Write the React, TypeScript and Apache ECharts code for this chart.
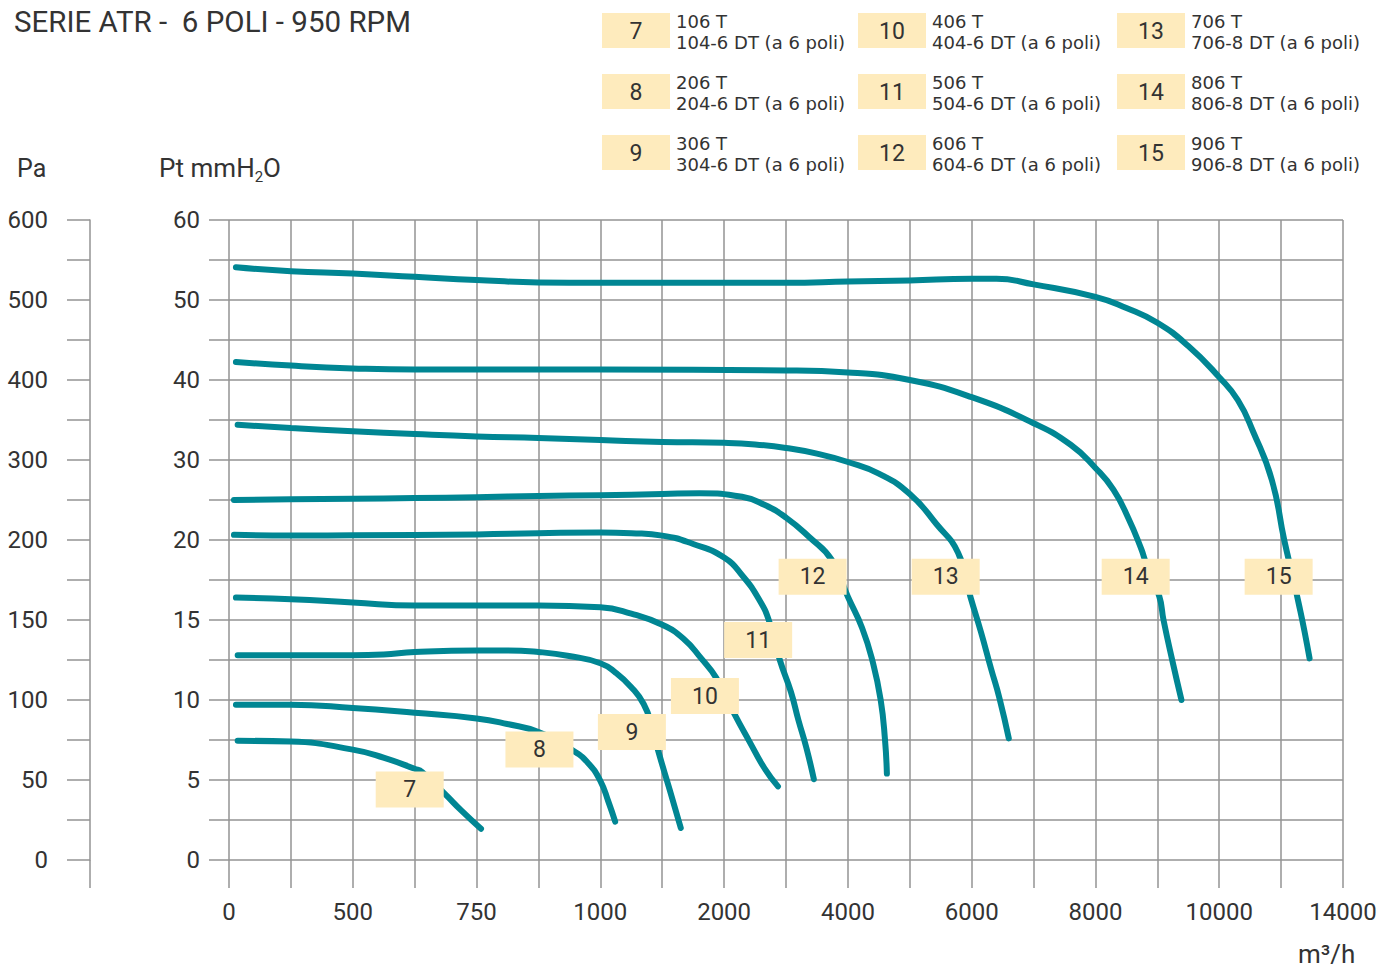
import React, { useEffect, useRef } from 'react';
import * as echarts from 'echarts';

// Axis tick labels (the scales are piecewise: each labelled step has the same length)
const X_TICK_VALUES = [0, 500, 750, 1000, 2000, 4000, 6000, 8000, 10000, 14000];
const Y_TICK_VALUES = [0, 5, 10, 15, 20, 30, 40, 50, 60];
const PA_TICK_VALUES = [0, 50, 100, 150, 200, 300, 400, 500, 600];

// Curves: [m3/h, mmH2O]
const curve7 = [[35, 7.45], [250, 7.4], [500, 6.9], [562, 6.4], [625, 5.7], [640, 5.5], [687, 4.1], [719, 3.1], [759, 1.95]];
const curve8 = [[28, 9.7], [250, 9.7], [500, 9.5], [625, 9.2], [750, 8.85], [812, 8.5], [875, 8.0], [947, 6.8], [977, 6.0], [1000, 4.95], [1065, 3.65], [1120, 2.4]];
const curve9 = [[35, 12.8], [250, 12.8], [500, 12.8], [562, 12.85], [625, 13.0], [750, 13.1], [812, 13.1], [875, 13.0], [937, 12.75], [1000, 12.3], [1125, 11.7], [1250, 10.8], [1350, 9.75], [1420, 8.3], [1465, 6.9], [1560, 4.4], [1650, 2.0]];
const curve10 = [[28, 16.4], [250, 16.3], [500, 16.1], [625, 15.9], [875, 15.9], [1000, 15.8], [1250, 15.4], [1500, 14.7], [1670, 13.85], [1815, 12.6], [1935, 11.4], [2170, 9.1], [2410, 7.4], [2650, 5.75], [2870, 4.6]];
const curve11 = [[20, 20.65], [250, 20.55], [500, 20.6], [750, 20.7], [875, 20.85], [1000, 20.95], [1250, 20.85], [1500, 20.55], [1750, 19.75], [2000, 18.9], [2300, 17.75], [2570, 16.25], [2730, 14.9], [2900, 12.5], [3080, 10.5], [3200, 8.75], [3330, 7.0], [3450, 5.05]];
const curve12 = [[20, 25.0], [250, 25.1], [500, 25.15], [625, 25.25], [750, 25.35], [875, 25.5], [1000, 25.6], [1500, 25.75], [1800, 25.85], [2290, 25.4], [2650, 24.4], [3000, 22.8], [3370, 20.4], [3740, 18.75], [4000, 16.45], [4230, 14.5], [4400, 12.4], [4530, 10.0], [4600, 7.5], [4630, 5.4]];
const curve13 = [[35, 34.4], [250, 34.0], [500, 33.6], [625, 33.25], [750, 32.95], [875, 32.75], [1000, 32.5], [1500, 32.25], [2000, 32.15], [2500, 31.95], [3000, 31.5], [3500, 30.8], [4000, 29.75], [4500, 28.3], [5000, 25.75], [5430, 22.0], [5780, 19.2], [5980, 16.45], [6150, 14.25], [6310, 12.0], [6450, 10.1], [6600, 7.6]];
const curve14 = [[28, 42.25], [250, 41.8], [500, 41.45], [625, 41.3], [1000, 41.3], [3000, 41.2], [4000, 40.95], [5000, 40.0], [6000, 37.85], [7000, 34.6], [7600, 31.9], [8000, 29.0], [8290, 26.3], [8530, 22.75], [8740, 19.45], [8800, 18.75], [9030, 16.5], [9100, 15.0], [9240, 12.5], [9390, 10.0]];
const curve15 = [[28, 54.1], [250, 53.6], [500, 53.3], [625, 52.9], [750, 52.5], [875, 52.2], [1000, 52.15], [3000, 52.15], [4000, 52.3], [5000, 52.45], [6000, 52.65], [6400, 52.65], [7000, 51.95], [8000, 50.4], [8500, 49.0], [9000, 47.15], [9500, 44.25], [10000, 40.35], [10600, 37.5], [11100, 33.5], [11700, 27.5], [12100, 20.0], [12400, 17.5], [12600, 15.75], [12760, 14.25], [12920, 12.6]];

const curves = [curve7, curve8, curve9, curve10, curve11, curve12, curve13, curve14, curve15];
const curveNames = ['7', '8', '9', '10', '11', '12', '13', '14', '15'];
// Curve tag positions [m3/h, mmH2O]
const tagPositions = [[615, 4.4], [877, 6.9], [1255, 8.0], [1845, 10.25], [2550, 13.75], [3430, 17.7], [5580, 17.7], [8650, 17.7], [11920, 17.7]];

// Legend
const legendNumbers = ['7', '8', '9', '10', '11', '12', '13', '14', '15'];
const legendModels = ['106 T', '206 T', '306 T', '406 T', '506 T', '606 T', '706 T', '806 T', '906 T'];
const legendVariants = [
  '104-6 DT (a 6 poli)', '204-6 DT (a 6 poli)', '304-6 DT (a 6 poli)',
  '404-6 DT (a 6 poli)', '504-6 DT (a 6 poli)', '604-6 DT (a 6 poli)',
  '706-8 DT (a 6 poli)', '806-8 DT (a 6 poli)', '906-8 DT (a 6 poli)',
];

const FONT = 'Roboto, "Noto Sans", sans-serif';
const LEGEND_FONT = '"DejaVu Sans", Roboto, sans-serif';
const TEXT = '#333333';
const GRID_COLOR = '#939393';
const CURVE_COLOR = '#008693';
const TAG_COLOR = '#feebbd';

function piecewise(v: number, ticks: number[]): number {
  const n = ticks.length - 1;
  for (let k = 0; k < n; k++) {
    const a = ticks[k];
    const b = ticks[k + 1];
    if (v <= b || k === n - 1) return 2 * k + (2 * (v - a)) / (b - a);
  }
  return 0;
}
const toX = (v: number) => piecewise(v, X_TICK_VALUES);
const toY = (v: number) => piecewise(v, Y_TICK_VALUES);

export default function App() {
  const ref = useRef<HTMLDivElement>(null);

  useEffect(() => {
    if (!ref.current) return;
    const chart = echarts.init(ref.current, null, { renderer: 'svg' });

    const gridLeft = 229;
    const gridTop = 220;
    const gridBottomY = 860;

    const lineSeries = curves.map((c, i) => ({
      type: 'line',
      name: curveNames[i],
      data: c.map((p) => [toX(p[0]), toY(p[1])]),
      smooth: 0.5,
      showSymbol: false,
      symbol: 'none',
      lineStyle: { color: CURVE_COLOR, width: 6, cap: 'round', join: 'round' },
      z: 3,
    }));

    const tagSeries = {
      type: 'scatter',
      data: tagPositions.map((p, i) => ({ value: [toX(p[0]), toY(p[1])], name: curveNames[i] })),
      symbol: 'rect',
      symbolSize: [68, 36],
      itemStyle: { color: TAG_COLOR, opacity: 1 },
      label: {
        show: true,
        position: 'inside',
        formatter: (p: any) => p.name,
        fontSize: 23,
        color: TEXT,
        fontFamily: FONT,
      },
      z: 5,
    };

    const graphics: any[] = [];
    graphics.push({
      type: 'text', x: 14, y: 22,
      style: { text: 'SERIE ATR -  6 POLI - 950 RPM', fontSize: 29.5, fontFamily: FONT, fill: TEXT, textVerticalAlign: 'middle' },
    });
    graphics.push({
      type: 'text', x: 17, y: 168,
      style: { text: 'Pa', fontSize: 25, fontFamily: FONT, fill: TEXT, textVerticalAlign: 'middle' },
    });
    graphics.push({
      type: 'text', x: 159, y: 168,
      style: {
        text: '{a|Pt mmH}{s|2}{a|O}',
        fontFamily: FONT,
        fill: TEXT,
        textVerticalAlign: 'middle',
        rich: {
          a: { fontSize: 26, fontFamily: FONT, fill: TEXT, lineHeight: 34, verticalAlign: 'middle' },
          s: { fontSize: 15, fontFamily: FONT, fill: TEXT, lineHeight: 34, verticalAlign: 'bottom', padding: [0, 0, 1, 0] },
        },
      },
    });
    graphics.push({
      type: 'text', x: 1298, y: 954,
      style: { text: 'm³/h', fontSize: 26, fontFamily: FONT, fill: TEXT, textVerticalAlign: 'middle' },
    });
    // Pa axis extension below zero line
    graphics.push({
      type: 'line', shape: { x1: 90, y1: gridBottomY, x2: 90, y2: 888 },
      style: { stroke: GRID_COLOR, lineWidth: 1.5 },
    });

    legendNumbers.forEach((num, i) => {
      const col = Math.floor(i / 3);
      const row = i % 3;
      const boxX = [602, 858, 1117][col];
      const boxY = 13 + row * 61;
      graphics.push({
        type: 'rect', shape: { x: boxX, y: boxY, width: 68, height: 35 },
        style: { fill: TAG_COLOR },
      });
      graphics.push({
        type: 'text', x: boxX + 34, y: boxY + 18,
        style: { text: num, fontSize: 23, fontFamily: FONT, fill: TEXT, textAlign: 'center', textVerticalAlign: 'middle' },
      });
      graphics.push({
        type: 'text', x: boxX + 74, y: boxY + 8,
        style: { text: legendModels[i], fontSize: 18, fontFamily: LEGEND_FONT, fill: TEXT, textVerticalAlign: 'middle' },
      });
      graphics.push({
        type: 'text', x: boxX + 74, y: boxY + 29,
        style: { text: legendVariants[i], fontSize: 18, fontFamily: LEGEND_FONT, fill: TEXT, textVerticalAlign: 'middle' },
      });
    });

    const option: any = {
      animation: false,
      backgroundColor: '#ffffff',
      textStyle: { fontFamily: FONT },
      grid: { left: gridLeft, right: 1390 - 1343, top: gridTop, bottom: 968 - gridBottomY, containLabel: false },
      xAxis: {
        type: 'value',
        min: 0,
        max: 18,
        interval: 1,
        axisLine: { show: false },
        axisTick: { show: true, length: 28, lineStyle: { color: GRID_COLOR, width: 1.5 } },
        splitLine: { show: true, lineStyle: { color: GRID_COLOR, width: 1.5 } },
        axisLabel: {
          margin: 40,
          fontSize: 24,
          color: TEXT,
          fontFamily: FONT,
          formatter: (v: number) => (Math.round(v) % 2 === 0 ? String(X_TICK_VALUES[Math.round(v) / 2]) : ''),
        },
      },
      yAxis: [
        {
          type: 'value',
          min: 0,
          max: 16,
          interval: 1,
          position: 'left',
          axisLine: { show: false },
          axisTick: { show: true, length: 20, lineStyle: { color: GRID_COLOR, width: 1.5 } },
          splitLine: { show: true, lineStyle: { color: GRID_COLOR, width: 1.5 } },
          axisLabel: {
            margin: 29,
            fontSize: 24,
            color: TEXT,
            fontFamily: FONT,
            formatter: (v: number) => (Math.round(v) % 2 === 0 ? String(Y_TICK_VALUES[Math.round(v) / 2]) : ''),
          },
        },
        {
          type: 'value',
          min: 0,
          max: 16,
          interval: 1,
          position: 'left',
          offset: gridLeft - 90,
          axisLine: { show: true, lineStyle: { color: GRID_COLOR, width: 1.5 } },
          axisTick: { show: true, length: 23, lineStyle: { color: GRID_COLOR, width: 1.5 } },
          splitLine: { show: false },
          axisLabel: {
            margin: 42,
            fontSize: 24,
            color: TEXT,
            fontFamily: FONT,
            formatter: (v: number) => (Math.round(v) % 2 === 0 ? String(PA_TICK_VALUES[Math.round(v) / 2]) : ''),
          },
        },
      ],
      series: [...lineSeries, tagSeries],
      graphic: graphics,
    };

    chart.setOption(option);
    return () => chart.dispose();
  }, []);

  return (
    <div
      ref={ref}
      style={{ position: 'fixed', left: 0, top: 0, width: '1390px', height: '968px', background: '#fff' }}
    />
  );
}
